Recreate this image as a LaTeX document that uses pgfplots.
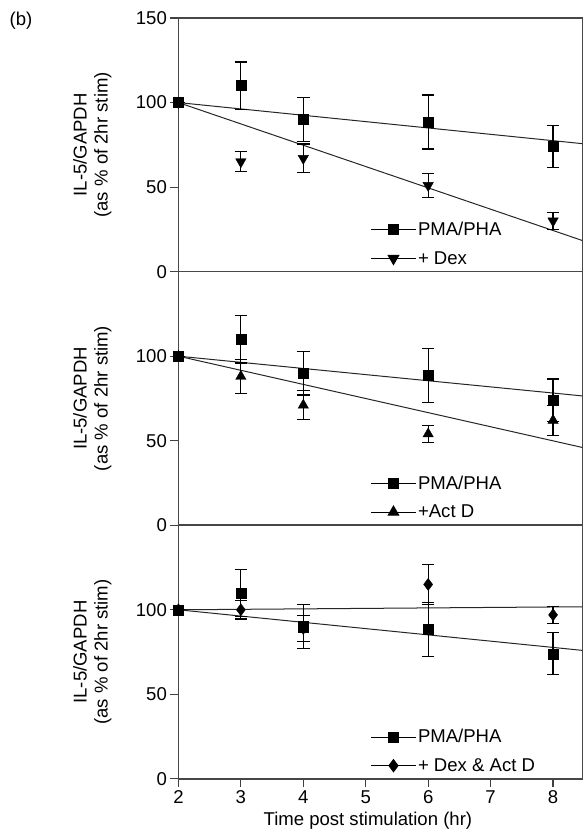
\documentclass[border=0pt]{standalone}
\usepackage{fontspec}
\setmainfont{Liberation Sans}
\usepackage{pgfplots}
\pgfplotsset{compat=1.18}
\usepackage{pgfplotstable}
\usetikzlibrary{calc}

% PMA/PHA alone (same in all three panels)
\pgfplotstableread{
x y e
2 100 0
3 110 14
4 90 13
6 88.5 16
8 74 12.5
}\pma
% + Dex
\pgfplotstableread{
x y e
2 100 0
3 65 6
4 67 8.5
6 51 7
8 30 5
}\dex
% + Act D
\pgfplotstableread{
x y e
2 100 0
3 88 10
4 71 8.5
6 54 5
8 62 9
}\actd
% + Dex & Act D
\pgfplotstableread{
x y e
2 100 0
3 100 5.5
4 89 7.6
6 115 12
8 97 5
}\dexactd

\newcommand{\fs}{\fontsize{18.5}{21}\selectfont}

\pgfplotsset{
  panel/.style={
    scale only axis, width=403pt, height=253pt,
    xmin=2, xmax=8.47, ymin=0, ymax=150,
    clip mode=individual,
    axis line style={line width=1.6pt, black!72},
    tick style={line width=1.2pt, black!75},
    tick align=outside, major tick length=8pt,
    xtick pos=bottom, ytick pos=left,
    ytick={0,50,100},
    tick label style={font=\fs},
    /pgf/number format/assume math mode=true,
    ylabel={IL-5/GAPDH\\(as \% of 2hr stim)},
    ylabel style={align=center, font=\fs, at={(axis description cs:-0.165,0.5)}, anchor=south, inner sep=0pt},
    legend style={draw=none, fill=none, at={(0.476,0.015)}, anchor=south west,
      inner sep=0pt, font=\fs, row sep=10pt,
      /tikz/every even column/.append style={column sep=5pt}},
    legend cell align=left,
    legend image code/.code={\draw[mark repeat=2,mark phase=2,#1] plot coordinates {(0pt,0pt)(22pt,0pt)(44pt,0pt)};},
  },
  dat/.style={only marks, black, mark size=5pt,
    error bars/y dir=both, error bars/y explicit,
    error bars/error bar style={line width=1.2pt, black},
    error bars/error mark options={rotate=90, mark size=6.3pt, line width=1.2pt, black}},
  fitline/.style={black!85, line width=1pt, no marks, forget plot},
}

\begin{document}
\begin{tikzpicture}
% panel 1: + Dex
\begin{axis}[panel, name=p1, ytick={0,50,100,150}, xtick=\empty]
\addplot[fitline] coordinates {(2,100)(8.47,75.7)};
\addplot[fitline] coordinates {(2,100)(8.47,18.4)};
\addplot[dat, mark=square*, forget plot] table[x=x, y=y, y error=e] {\pma};
\addplot[dat, mark=triangle*, mark size=6pt, mark options={rotate=180}, forget plot] table[x=x, y=y, y error=e] {\dex};
\addlegendimage{black, line width=1pt, mark=square*, mark size=5pt}
\addlegendentry{PMA/PHA}
\addlegendimage{black, line width=1pt, mark=triangle*, mark size=6pt, mark options={rotate=180}}
\addlegendentry{+ Dex}
\end{axis}
% panel 2: + Act D
\begin{axis}[panel, name=p2, at={(p1.south west)}, anchor=north west, xtick=\empty]
\addplot[fitline] coordinates {(2,100)(8.47,76.5)};
\addplot[fitline] coordinates {(2,100)(8.47,46)};
\addplot[dat, mark=square*, forget plot] table[x=x, y=y, y error=e] {\pma};
\addplot[dat, mark=triangle*, mark size=6pt, forget plot] table[x=x, y=y, y error=e] {\actd};
\addlegendimage{black, line width=1pt, mark=square*, mark size=5pt}
\addlegendentry{PMA/PHA}
\addlegendimage{black, line width=1pt, mark=triangle*, mark size=6pt}
\addlegendentry{+Act D}
\end{axis}
% panel 3: + Dex & Act D
\begin{axis}[panel, name=p3, at={(p2.south west)}, anchor=north west,
    xtick={2,3,4,5,6,7,8},
    xlabel={Time post stimulation (hr)},
    xlabel style={font=\fs, at={(axis description cs:0.469,0)}, anchor=north, yshift=-30pt}]
\addplot[fitline] coordinates {(2,100)(8.47,76)};
\addplot[fitline] coordinates {(2,100)(8.47,101.8)};
\addplot[dat, mark=square*, forget plot] table[x=x, y=y, y error=e] {\pma};
\addplot[dat, mark=diamond*, mark size=6pt, forget plot] table[x=x, y=y, y error=e] {\dexactd};
\addlegendimage{black, line width=1pt, mark=square*, mark size=5pt}
\addlegendentry{PMA/PHA}
\addlegendimage{black, line width=1pt, mark=diamond*, mark size=6pt}
\addlegendentry{+ Dex \& Act D}
\end{axis}
\node[font=\fs, inner sep=0pt] at ($(p1.north west)+(-157pt,-2.5pt)$) {(b)};
\useasboundingbox ($(p1.north west)+(-178pt,18pt)$) rectangle ($(p3.south west)+(405pt,-57pt)$);
\end{tikzpicture}
\end{document}
